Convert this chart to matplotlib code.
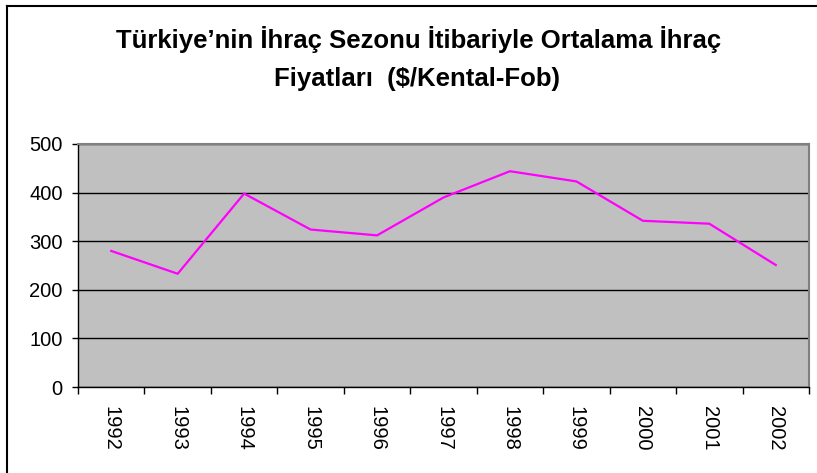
import matplotlib
matplotlib.use("Agg")
import matplotlib.pyplot as plt
from matplotlib.lines import Line2D

plt.rcParams['font.family'] = ['Liberation Sans', 'DejaVu Sans']

years = ['1992', '1993', '1994', '1995', '1996', '1997', '1998', '1999', '2000', '2001', '2002']
prices = [280, 233, 398, 324, 312, 390, 444, 423, 342, 336, 251]
y_ticks = [0, 100, 200, 300, 400, 500]

fig = plt.figure(figsize=(8.17, 4.73), dpi=100)
ax = fig.add_axes([78 / 817, 86 / 473, 731 / 817, 243 / 473])
ax.set_facecolor('#C0C0C0')

x = list(range(len(years)))
ax.plot(x, prices, color='#FF00FF', linewidth=1.6, zorder=3)

ax.set_xlim(-0.5, len(years) - 0.5)
ax.set_ylim(0, 500)
ax.set_yticks(y_ticks)
ax.set_yticklabels([str(v) for v in y_ticks], fontsize=14.5)
ax.yaxis.grid(True, color='black', linewidth=1.0)
ax.set_axisbelow(True)

# category ticks sit between the years, labels at the centres
ax.set_xticks([i - 0.5 for i in range(len(years) + 1)])
ax.set_xticklabels([])
ax.set_xticks(x, minor=True)
ax.set_xticklabels(years, minor=True, rotation=-90, fontsize=14.5)
ax.tick_params(axis='x', which='minor', length=0, pad=14)
ax.tick_params(axis='x', which='major', length=5, width=1, color='black', direction='out')
ax.tick_params(axis='y', length=4, width=1, color='black', direction='out', pad=7)

for side in ['top', 'right']:
    ax.spines[side].set_color('#808080')
    ax.spines[side].set_linewidth(1.5)
for side in ['left', 'bottom']:
    ax.spines[side].set_color('black')
    ax.spines[side].set_linewidth(1.0)

fig.text(419 / 817, 1 - 48 / 473, 'Türkiye’nin İhraç Sezonu İtibariyle Ortalama İhraç',
         ha='center', va='baseline', fontsize=18.5, fontweight='bold')
fig.text(417 / 817, 1 - 86 / 473, 'Fiyatları  ($/Kental-Fob)',
         ha='center', va='baseline', fontsize=18.5, fontweight='bold')

# chart area frame, only the top and left edges show
fig.add_artist(Line2D([7 / 817, 1], [1 - 6 / 473, 1 - 6 / 473], transform=fig.transFigure, color='black', linewidth=1.5))
fig.add_artist(Line2D([7 / 817, 7 / 817], [0, 1 - 6 / 473], transform=fig.transFigure, color='black', linewidth=1.5))

fig.savefig('out.png', dpi=100)
